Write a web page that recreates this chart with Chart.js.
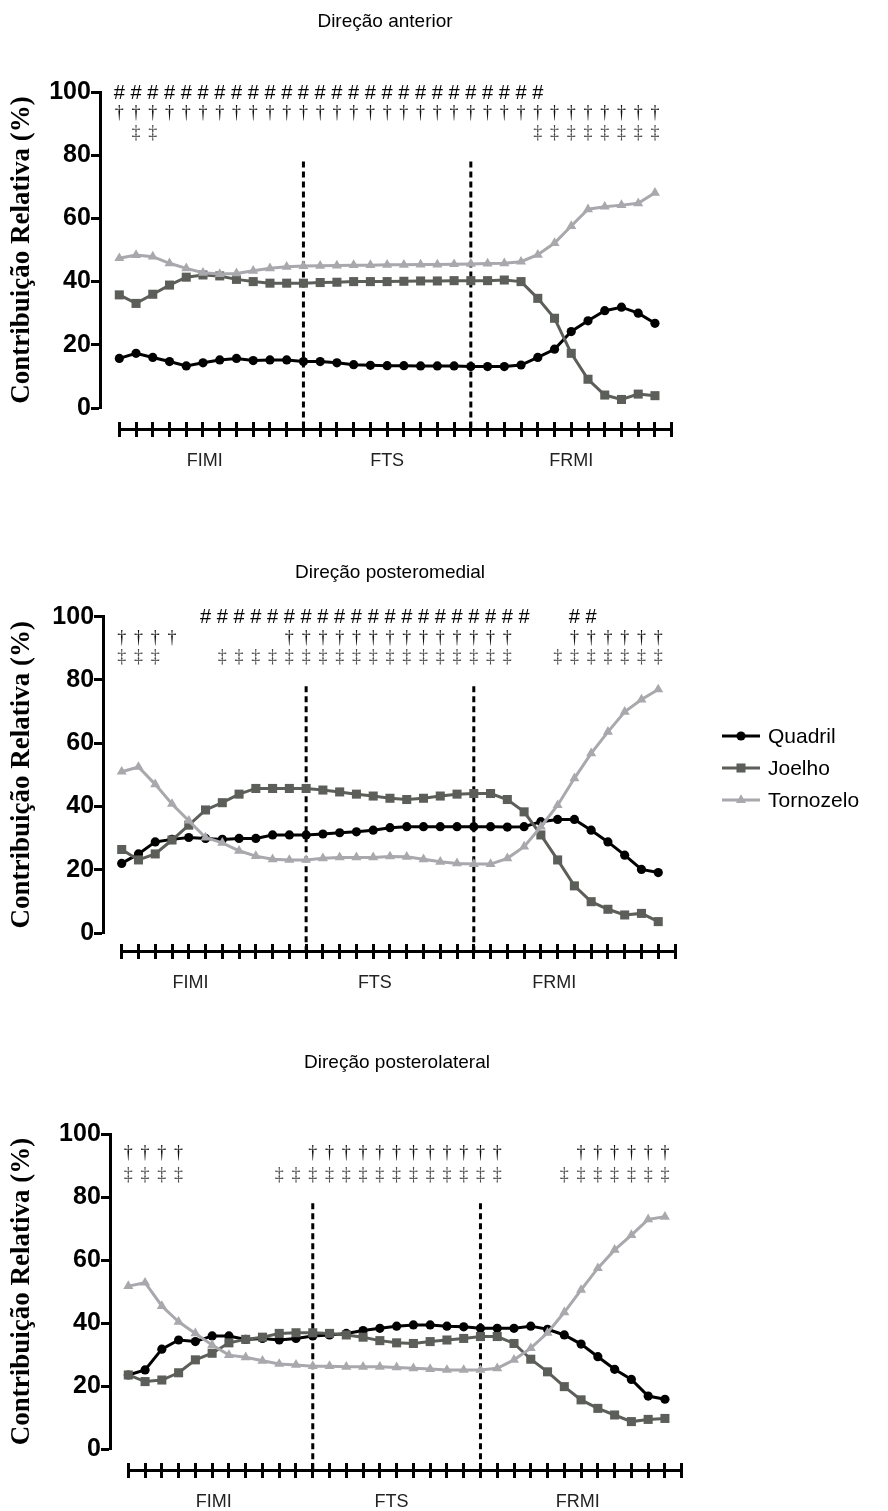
<!DOCTYPE html>
<html><head><meta charset="utf-8">
<script src="https://cdn.jsdelivr.net/npm/chart.js@4.4.1/dist/chart.umd.min.js"></script>
<style>
html,body{margin:0;padding:0;background:#fff;}
body{width:888px;height:1511px;position:relative;overflow:hidden;}
canvas{position:absolute;left:0;}
</style></head><body>
<canvas id="c1" width="888" height="490" style="top:0px"></canvas>
<canvas id="c2" width="888" height="520" style="top:490px"></canvas>
<canvas id="c3" width="888" height="501" style="top:1010px"></canvas>
<script>
// ---------- data ----------
const SERIES_NAMES = ['Quadril', 'Joelho', 'Tornozelo'];
const TIME_POINTS = [0,1,2,3,4,5,6,7,8,9,10,11,12,13,14,15,16,17,18,19,20,21,22,23,24,25,26,27,28,29,30,31,32];
const SECTION_LABELS = ['FIMI', 'FTS', 'FRMI'];
const PHASE_BOUNDARIES = [11, 21];
const Y_TITLE = 'Contribuição Relativa (%)';
const PANEL_TITLES = ['Direção anterior', 'Direção posteromedial', 'Direção posterolateral'];

// Direção anterior
const ANT_QUADRIL   = [15.7,17.3,16.0,14.7,13.3,14.3,15.2,15.7,15.0,15.2,15.2,14.7,14.7,14.3,13.7,13.5,13.4,13.4,13.3,13.3,13.3,13.1,13.1,13.1,13.6,16.0,18.6,24.2,27.6,30.8,31.9,30.0,26.8];
const ANT_JOELHO    = [35.8,33.1,36.0,38.9,41.4,42.1,41.8,40.7,40.0,39.5,39.5,39.5,39.7,39.8,40.0,40.0,40.0,40.1,40.2,40.2,40.3,40.3,40.3,40.5,40.0,34.7,28.4,17.3,9.1,4.1,2.7,4.4,3.9];
const ANT_TORNOZELO = [47.4,48.4,47.9,45.8,44.2,42.8,42.4,42.6,43.4,44.2,44.7,44.9,45.0,45.1,45.2,45.2,45.3,45.3,45.4,45.4,45.5,45.6,45.7,45.8,46.3,48.5,52.2,57.6,62.9,63.7,64.2,64.8,68.1];
const ANT_HASH    = [0,1,2,3,4,5,6,7,8,9,10,11,12,13,14,15,16,17,18,19,20,21,22,23,24,25];
const ANT_DAGGER  = [0,1,2,3,4,5,6,7,8,9,10,11,12,13,14,15,16,17,18,19,20,21,22,23,24,25,26,27,28,29,30,31,32];
const ANT_DDAGGER = [1,2,25,26,27,28,29,30,31,32];

// Direção posteromedial
const PM_QUADRIL   = [22.0,25.0,28.8,29.6,30.2,29.9,29.6,29.9,29.9,31.0,31.0,31.0,31.3,31.7,32.0,32.5,33.3,33.6,33.6,33.6,33.6,33.6,33.6,33.5,33.6,35.2,35.9,35.9,32.5,28.8,24.6,20.1,19.1];
const PM_JOELHO    = [26.4,23.1,25.0,29.4,34.1,38.9,41.2,43.9,45.7,45.7,45.7,45.7,45.2,44.6,43.9,43.3,42.6,42.2,42.6,43.3,43.9,44.1,44.1,42.2,38.3,31.0,23.1,14.9,9.9,7.5,5.7,6.2,3.6];
const PM_TORNOZELO = [51.0,52.5,47.0,40.8,35.5,30.2,28.5,26.0,24.3,23.3,23.1,23.1,23.6,23.9,23.9,23.9,24.2,24.1,23.3,22.5,22.0,21.8,21.8,23.6,27.3,33.6,40.4,48.9,56.8,63.6,69.9,73.8,77.0];
const PM_HASH    = [5,6,7,8,9,10,11,12,13,14,15,16,17,18,19,20,21,22,23,24,27,28];
const PM_DAGGER  = [0,1,2,3,10,11,12,13,14,15,16,17,18,19,20,21,22,23,27,28,29,30,31,32];
const PM_DDAGGER = [0,1,2,6,7,8,9,10,11,12,13,14,15,16,17,18,19,20,21,22,23,26,27,28,29,30,31,32];

// Direção posterolateral
const PL_QUADRIL   = [23.5,25.1,31.7,34.6,34.1,35.9,35.9,34.8,35.1,34.6,35.1,35.9,36.2,36.7,37.6,38.3,39.0,39.4,39.4,39.0,38.8,38.3,38.3,38.3,39.0,38.0,36.2,33.3,29.3,25.3,22.1,16.8,15.8];
const PL_JOELHO    = [23.5,21.4,21.9,24.2,28.3,30.4,33.7,34.8,35.5,36.7,36.9,36.9,36.7,36.2,35.5,34.4,33.7,33.5,34.1,34.6,35.1,35.7,35.7,33.5,28.5,24.5,19.8,15.6,12.9,10.8,8.7,9.4,9.7];
const PL_TORNOZELO = [51.7,52.8,45.4,40.4,36.7,33.0,29.8,29.1,28.0,27.0,26.7,26.3,26.3,26.1,26.1,26.1,25.9,25.6,25.4,25.1,25.1,25.1,25.6,28.3,32.0,36.9,43.4,50.5,57.4,63.2,67.9,72.9,73.7];
const PL_HASH    = [];
const PL_DAGGER  = [0,1,2,3,11,12,13,14,15,16,17,18,19,20,21,22,27,28,29,30,31,32];
const PL_DDAGGER = [0,1,2,3,9,10,11,12,13,14,15,16,17,18,19,20,21,22,26,27,28,29,30,31,32];

const DASH_TOP = 78;

// ---------- styles / layout ----------
const SERIES_STYLE = [
  {color:'#000000', pointStyle:'circle',   radius:4.6},
  {color:'#5c5e59', pointStyle:'rect',     radius:6.4},
  {color:'#a8a8ad', pointStyle:'triangle', radius:5.8}
];
const PANELS = [
  {canvas:'c1', series:[ANT_QUADRIL, ANT_JOELHO, ANT_TORNOZELO], marks:[ANT_HASH, ANT_DAGGER, ANT_DDAGGER],
   markY:[99.6, 93.4, 87.0], sections:[5.1, 16.0, 27.0], axisY:-6.8, yAxisX:-1.15,
   pad:{left:119.3, right:216.3, top:92, bottom:82}, title:{x:385, y:22}, legend:false},
  {canvas:'c2', series:[PM_QUADRIL, PM_JOELHO, PM_TORNOZELO], marks:[PM_HASH, PM_DAGGER, PM_DDAGGER],
   markY:[99.6, 93.2, 87.2], sections:[4.1, 15.1, 25.8], axisY:-5.9, yAxisX:-1.1,
   pad:{left:121.7, right:213, top:126.7, bottom:77}, title:{x:390, y:83}, legend:true},
  {canvas:'c3', series:[PL_QUADRIL, PL_JOELHO, PL_TORNOZELO], marks:[PL_HASH, PL_DAGGER, PL_DDAGGER],
   markY:[99.6, 94.0, 87.0], sections:[5.1, 15.7, 26.8], axisY:-6.7, yAxisX:-1.09,
   pad:{left:128.3, right:206.3, top:124, bottom:62}, title:{x:397, y:53}, legend:false}
];
const MARK_SYMBOLS = ['#', '†', '‡'];
const MARK_STYLE = [
  {font:'20px "Liberation Sans", Arial', color:'#000'},
  {font:'18px "Liberation Serif", serif', color:'#111'},
  {font:'18px "Liberation Serif", serif', color:'#4a4a4a'}
];

const annotPlugin = {
  id: 'annot',
  afterDatasetsDraw(chart, args, o) {
    const ctx = chart.ctx, xs = chart.scales.x, ys = chart.scales.y;
    ctx.save();
    ctx.textAlign = 'center'; ctx.textBaseline = 'middle';
    // panel title
    ctx.fillStyle = '#000';
    ctx.font = '19px "Liberation Sans", Arial';
    ctx.fillText(o.title, o.titleX, o.titleY);
    // y axis title
    ctx.save();
    ctx.translate(o.yTitleX, (ys.top + ys.bottom) / 2);
    ctx.rotate(-Math.PI / 2);
    ctx.font = 'bold 27px "Liberation Serif", serif';
    ctx.fillText(Y_TITLE, 0, 0);
    ctx.restore();
    // significance marks
    o.marks.forEach((idx, r) => {
      ctx.font = MARK_STYLE[r].font; ctx.fillStyle = MARK_STYLE[r].color;
      const py = ys.getPixelForValue(o.markY[r]);
      idx.forEach(i => ctx.fillText(MARK_SYMBOLS[r], xs.getPixelForValue(i), py));
    });
    // legend
    if (o.legend) {
      const rowsY = [246, 278, 310];
      SERIES_NAMES.forEach((name, k) => {
        const st = SERIES_STYLE[k], y = rowsY[k];
        ctx.strokeStyle = st.color; ctx.fillStyle = st.color; ctx.lineWidth = 3;
        ctx.beginPath(); ctx.moveTo(722, y); ctx.lineTo(760, y); ctx.stroke();
        Chart.helpers.drawPoint(ctx, {pointStyle: st.pointStyle, radius: st.radius, rotation: 0, borderWidth: 0}, 741, y);
        ctx.fillStyle = '#000'; ctx.textAlign = 'left';
        ctx.font = '21px "Liberation Sans", Arial';
        ctx.fillText(name, 768, y + 1);
        ctx.textAlign = 'center';
      });
    }
    ctx.restore();
  }
};

PANELS.forEach((p, pi) => {
  const datasets = p.series.map((vals, k) => ({
    label: SERIES_NAMES[k],
    data: vals.map((v, i) => ({x: TIME_POINTS[i], y: v})),
    borderColor: SERIES_STYLE[k].color,
    backgroundColor: SERIES_STYLE[k].color,
    pointBackgroundColor: SERIES_STYLE[k].color,
    pointBorderWidth: 0,
    pointStyle: SERIES_STYLE[k].pointStyle,
    pointRadius: SERIES_STYLE[k].radius,
    borderWidth: 3,
    tension: 0,
    clip: false,
    order: 3 - k
  }));
  PHASE_BOUNDARIES.forEach(b => datasets.push({
    label: 'fase',
    data: [{x: b, y: DASH_TOP}, {x: b, y: p.axisY}],
    borderColor: '#000', borderWidth: 3, borderDash: [6, 4],
    pointRadius: 0, clip: false, order: 10
  }));
  new Chart(document.getElementById(p.canvas), {
    type: 'line',
    data: {datasets},
    options: {
      responsive: false, animation: false, devicePixelRatio: 1,
      layout: {padding: p.pad, autoPadding: false},
      plugins: {
        legend: {display: false}, tooltip: {enabled: false}, title: {display: false},
        annot: {title: PANEL_TITLES[pi], titleX: p.title.x, titleY: p.title.y, yTitleX: 22,
                marks: p.marks, markY: p.markY, legend: p.legend}
      },
      scales: {
        x: {
          type: 'linear', min: 0, max: 33, position: {y: p.axisY},
          border: {display: true, width: 3, color: '#000'},
          grid: {drawOnChartArea: false, drawTicks: false},
          afterBuildTicks: s => { s.ticks = p.sections.map(v => ({value: v})); },
          ticks: {autoSkip: false, maxRotation: 0, padding: 21, color: '#222',
                  font: {family: '"Liberation Sans", Arial', size: 18},
                  callback: (v, i) => SECTION_LABELS[i]}
        },
        xt: {
          type: 'linear', min: 0, max: 33, position: {y: p.axisY + 2.3},
          border: {display: false},
          grid: {drawOnChartArea: false, drawTicks: true, tickLength: 15, tickWidth: 3, tickColor: '#000'},
          ticks: {stepSize: 1, display: false}
        },
        y: {
          type: 'linear', min: 0, max: 100, position: {x: p.yAxisX},
          border: {display: true, width: 3, color: '#000'},
          grid: {drawOnChartArea: false, drawTicks: true, tickLength: 8, tickWidth: 3, tickColor: '#000'},
          ticks: {stepSize: 20, display: false}
        },
        yl: {
          type: 'linear', min: 0, max: 100, position: {x: p.yAxisX - 0.55},
          border: {display: false},
          grid: {drawOnChartArea: false, drawTicks: false},
          ticks: {stepSize: 20, color: '#000',
                  font: {family: '"Liberation Sans", Arial', size: 25, weight: 'bold'}}
        }
      }
    },
    plugins: [annotPlugin]
  });
});
</script>
</body></html>
